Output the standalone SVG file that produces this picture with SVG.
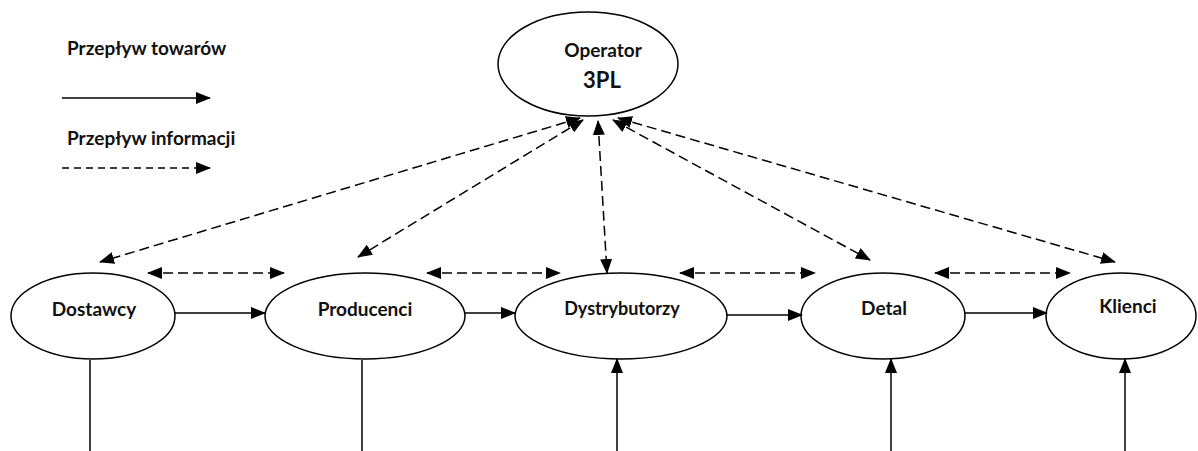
<svg xmlns="http://www.w3.org/2000/svg" width="1198" height="451" viewBox="0 0 1198 451">
<defs>
<marker id="ah" markerWidth="15" markerHeight="12" refX="14" refY="6" orient="auto-start-reverse" markerUnits="userSpaceOnUse"><path d="M0,0 L15,6 L0,12 z" fill="#000"/></marker>
<style>
.node ellipse{fill:#fff;stroke:#000;stroke-width:1.5}
text{font-family:Lato,"Open Sans","Liberation Sans",sans-serif;font-weight:bold;fill:#111;font-size:19px}
.c{text-anchor:middle}
.s{stroke:#000;stroke-width:1.5;fill:none}
.d{stroke:#000;stroke-width:1.5;fill:none;stroke-dasharray:10 5}
.l{stroke-dasharray:7 5}
.a{marker-end:url(#ah)}
.b{marker-start:url(#ah);marker-end:url(#ah)}
</style>
</defs>
<rect width="1198" height="451" fill="#fff"/>
<g id="legend">
<text x="67" y="55">Przepływ towarów</text>
<line class="s a" x1="62" y1="98" x2="210" y2="98"/>
<text x="67" y="145">Przepływ informacji</text>
<line class="d l a" x1="62" y1="168" x2="210" y2="168"/>
</g>
<g id="operator" class="node"><ellipse cx="588" cy="64" rx="90" ry="52"/><text class="c" x="603" y="57">Operator</text><text class="c" x="602" y="88" style="font-size:22px">3PL</text></g>
<g id="dostawcy" class="node"><ellipse cx="93" cy="316" rx="82" ry="43"/><text class="c" x="94" y="316">Dostawcy</text></g>
<g id="producenci" class="node"><ellipse cx="365" cy="316" rx="100" ry="43"/><text class="c" x="365" y="316">Producenci</text></g>
<g id="dystrybutorzy" class="node"><ellipse cx="621" cy="316" rx="106" ry="43"/><text class="c" x="622" y="315" style="font-size:18px">Dystrybutorzy</text></g>
<g id="detal" class="node"><ellipse cx="883" cy="316" rx="82" ry="43"/><text class="c" x="884" y="315">Detal</text></g>
<g id="klienci" class="node"><ellipse cx="1121" cy="316" rx="75" ry="43"/><text class="c" x="1128" y="313">Klienci</text></g>
<g id="connectors">
<line class="s a" x1="175" y1="313" x2="265" y2="313"/>
<line class="s a" x1="465" y1="313" x2="515" y2="313"/>
<line class="s a" x1="727" y1="315" x2="802" y2="315"/>
<line class="s a" x1="965" y1="313" x2="1047" y2="313"/>
<line class="d b" x1="148" y1="273" x2="284" y2="273"/>
<line class="d b" x1="427" y1="273" x2="560" y2="273"/>
<line class="d b" x1="680" y1="273" x2="815" y2="273"/>
<line class="d b" x1="935" y1="273" x2="1070" y2="273"/>
<line class="d b" x1="580" y1="118" x2="100" y2="262"/>
<line class="d b" x1="583" y1="120" x2="358" y2="257"/>
<line class="d b" x1="598" y1="121" x2="607" y2="273"/>
<line class="d b" x1="613" y1="120" x2="870" y2="260"/>
<line class="d b" x1="618" y1="118" x2="1115" y2="262"/>
<line class="s" x1="90" y1="360" x2="90" y2="451"/>
<line class="s" x1="362" y1="360" x2="362" y2="451"/>
<line class="s a" x1="617" y1="451" x2="617" y2="359"/>
<line class="s a" x1="891" y1="451" x2="891" y2="359"/>
<line class="s a" x1="1125" y1="451" x2="1125" y2="359"/>
</g>
</svg>
